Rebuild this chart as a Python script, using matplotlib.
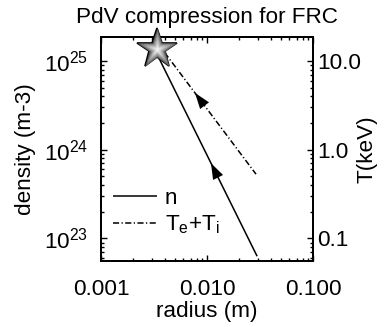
import numpy as np
import matplotlib
matplotlib.use('Agg')
import matplotlib.pyplot as plt
from matplotlib.ticker import LogLocator, FixedLocator, FixedFormatter, NullFormatter

plt.rcParams['font.family'] = ['Liberation Sans', 'DejaVu Sans']
plt.rcParams['mathtext.fontset'] = 'custom'
plt.rcParams['mathtext.rm'] = 'Liberation Sans'
plt.rcParams['mathtext.it'] = 'Liberation Sans'
plt.rcParams['mathtext.bf'] = 'Liberation Sans:bold'
plt.rcParams['font.size'] = 16.2

# ---- data ----
title = "PdV compression for FRC"
radius_n = [0.0034, 0.0297]
density = [1.17e25, 6.3e22]
radius_T = [0.0034, 0.029]
temperature = [16.0, 0.53]
star_radius = [0.00341]
star_density = [1.35e25]
arrow_r_n = 0.0109
arrow_r_T = 0.0077
x_ticks = [0.001, 0.01, 0.1]
x_ticklabels = ["0.001", "0.010", "0.100"]
y_ticks = [1e23, 1e24, 1e25]
T_ticks = [0.1, 1.0, 10.0]
T_ticklabels = ["0.1", "1.0", "10.0"]
xlim = (0.001, 0.1)
ylim = (5.57e22, 1.86e25)
n_to_T = 1e-24

fig = plt.figure(figsize=(3.86, 3.27), dpi=100)
ax = fig.add_axes([101/386, 1-261/327, 212/386, 224/327])
ax2 = ax.twinx()
ax.set_zorder(ax2.get_zorder() + 1)
ax.patch.set_visible(False)

lw = 1.1
ln_n, = ax.plot(radius_n, density, color='k', lw=lw, solid_capstyle='butt')
ln_T, = ax2.plot(radius_T, temperature, color='k', lw=lw,
                 linestyle=(0, (4.0, 1.6, 0.8, 1.6)))

def loginterp(x, xs, ys):
    return 10**np.interp(np.log10(x), np.log10(xs), np.log10(ys))

def add_arrow(a, r_tip, xs, ys):
    r_back = r_tip * 1.25
    a.annotate('', xy=(r_tip, loginterp(r_tip, xs, ys)),
               xytext=(r_back, loginterp(r_back, xs, ys)),
               arrowprops=dict(arrowstyle='-|>,head_length=1.15,head_width=0.4',
                               color='k', lw=0.01, shrinkA=0, shrinkB=0,
                               mutation_scale=10))

add_arrow(ax, arrow_r_n, radius_n, density)
add_arrow(ax2, arrow_r_T, radius_T, temperature)

# gradient star
ax.plot(star_radius, star_density, marker='*', ms=30, mfc='#4a4a4a', mec='k',
        mew=1.2, ls='none', zorder=5, clip_on=False)
nlayer = 14
for i in range(nlayer):
    f = i / (nlayer - 1)
    g = 0.33 + 0.65 * f ** 0.8
    ax.plot(star_radius, star_density, marker='*', ms=28.5 * (1 - f) + 1.5,
            mfc=(g, g, g), mec='none', ls='none', zorder=6 + i, clip_on=False)

for a in (ax, ax2):
    a.set_xscale('log')
    a.set_yscale('log')
    a.set_xlim(*xlim)
ax.set_ylim(*ylim)
ax2.set_ylim(ylim[0] * n_to_T, ylim[1] * n_to_T)

ax.xaxis.set_major_locator(FixedLocator(x_ticks))
ax.xaxis.set_major_formatter(FixedFormatter(x_ticklabels))
ax.xaxis.set_minor_locator(LogLocator(base=10, subs=np.arange(2, 10)))
ax.xaxis.set_minor_formatter(NullFormatter())
ax.yaxis.set_major_locator(FixedLocator(y_ticks))
ax.yaxis.set_minor_locator(LogLocator(base=10, subs=np.arange(2, 10)))
ax.yaxis.set_minor_formatter(NullFormatter())
ax2.yaxis.set_major_locator(FixedLocator(T_ticks))
ax2.yaxis.set_major_formatter(FixedFormatter(T_ticklabels))
ax2.yaxis.set_minor_locator(LogLocator(base=10, subs=np.arange(2, 10)))
ax2.yaxis.set_minor_formatter(NullFormatter())

ax.tick_params(which='both', direction='in', top=True, right=False, width=1.0)
ax.tick_params(which='major', length=4.5)
ax.tick_params(which='minor', length=2.2)
ax.tick_params(axis='x', which='major', pad=13)
ax.tick_params(axis='y', which='major', pad=9)
ax2.tick_params(which='both', direction='in', width=1.0)
ax2.tick_params(which='major', length=4.5, pad=3)
ax2.tick_params(which='minor', length=2.2)
for a in (ax, ax2):
    for s in a.spines.values():
        s.set_linewidth(1.4)

ax.set_xlabel('radius (m)')
ax.xaxis.set_label_coords(0.5, (261 - 301) / 224)
ax.set_ylabel('density (m-3)')
ax.yaxis.set_label_coords((36 - 101) / 212, 0.5)
ax2.set_ylabel('T(keV)')
ax2.yaxis.set_label_coords((357 - 101) / 212, 0.5)

fig.text(207 / 386, 1 - 18 / 327, title, ha='center', va='center')

ax.legend([ln_n, ln_T], ['n', r'T$_{\rm e}$+T$_{\rm i}$'], frameon=False,
          loc='upper left', bbox_to_anchor=((113 - 101) / 212, (261 - 188) / 224),
          borderpad=0, borderaxespad=0, handlelength=1.95, handletextpad=0.35,
          labelspacing=0.2)

fig.savefig('out.png', dpi=100)
